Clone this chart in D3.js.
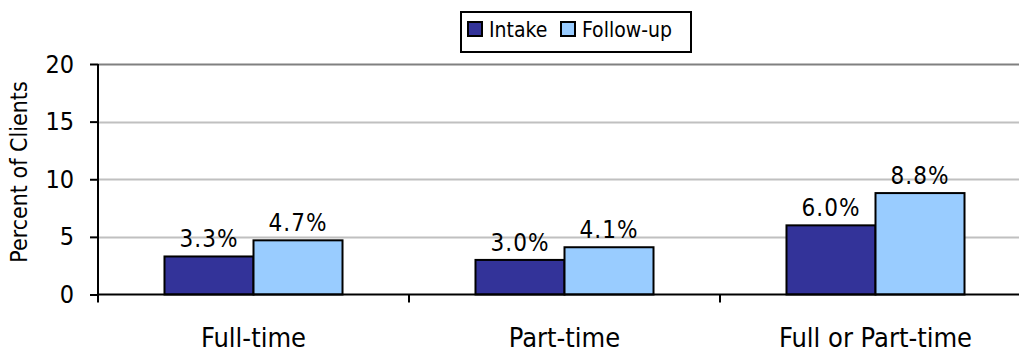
<!DOCTYPE html>
<html>
<head>
<meta charset="utf-8">
<script src="https://cdn.jsdelivr.net/npm/d3@7"></script>
<style>
  html, body { margin: 0; padding: 0; background: #fff; }
  svg { display: block; }
  text { font-family: "DejaVu Sans Condensed", "DejaVu Sans", sans-serif; fill: #000; }
</style>
</head>
<body>
<svg id="chart" width="1019" height="352"></svg>
<script>
// Employment status of clients at intake and follow-up
const categories = ["Full-time", "Part-time", "Full or Part-time"];
const seriesNames = ["Intake", "Follow-up"];
const intakeValues = [3.3, 3.0, 6.0];
const followUpValues = [4.7, 4.1, 8.8];
const yTicks = [0, 5, 10, 15, 20];
const seriesColors = ["#333399", "#99CCFF"];

const svg = d3.select("#chart");

const plot = { left: 98, top: 64, bottom: 294.5, step: 311 };

const x = d3.scaleBand()
  .domain(categories)
  .range([plot.left, plot.left + plot.step * categories.length])
  .padding(0);

const xSeries = d3.scaleBand()
  .domain(seriesNames)
  .range([0, x.bandwidth()])
  .paddingInner(0)
  .paddingOuter(0.747);

const y = d3.scaleLinear()
  .domain([0, 20])
  .range([plot.bottom, plot.top]);

const rows = categories.map((c, i) => ({
  category: c,
  values: [
    { series: seriesNames[0], value: intakeValues[i], color: seriesColors[0] },
    { series: seriesNames[1], value: followUpValues[i], color: seriesColors[1] }
  ]
}));

// horizontal gridlines
svg.append("g")
  .selectAll("line")
  .data(yTicks.filter(t => t > 0))
  .join("line")
  .attr("x1", plot.left)
  .attr("x2", x.range()[1])
  .attr("y1", d => Math.round(y(d)) + 0.5)
  .attr("y2", d => Math.round(y(d)) + 0.5)
  .attr("stroke", d => d === 20 ? "#808080" : "#c0c0c0")
  .attr("stroke-width", 2);

// bars
const groups = svg.append("g")
  .selectAll("g")
  .data(rows)
  .join("g")
  .attr("transform", d => `translate(${x(d.category)},0)`);

groups.selectAll("rect")
  .data(d => d.values)
  .join("rect")
  .attr("x", d => xSeries(d.series))
  .attr("y", d => y(d.value))
  .attr("width", xSeries.bandwidth())
  .attr("height", d => y(0) - y(d.value))
  .attr("fill", d => d.color)
  .attr("stroke", "#000")
  .attr("stroke-width", 2);

// value labels
groups.selectAll("text.value")
  .data(d => d.values)
  .join("text")
  .attr("class", "value")
  .attr("x", d => xSeries(d.series) + xSeries.bandwidth() / 2)
  .attr("y", d => y(d.value) - 9)
  .attr("text-anchor", "middle")
  .attr("font-size", 24)
  .attr("letter-spacing", 1)
  .text(d => d.value.toFixed(1) + "%");

// y axis
const yAxis = svg.append("g")
  .attr("transform", `translate(${plot.left},0)`)
  .call(d3.axisLeft(y).tickValues(yTicks).tickSize(8).tickPadding(16));
yAxis.select(".domain").attr("stroke", "#000").attr("stroke-width", 2)
  .attr("d", `M0,${plot.top}V${plot.bottom}`);
yAxis.selectAll(".tick line").attr("stroke", "#000").attr("stroke-width", 2);
yAxis.selectAll(".tick text")
  .attr("font-size", 25)
  .attr("font-family", "DejaVu Sans Condensed, DejaVu Sans, sans-serif")
  .attr("fill", "#000");

// x axis
const xTickPositions = categories.map(c => x(c));
const xAxisG = svg.append("g");
xAxisG.append("line")
  .attr("x1", plot.left)
  .attr("x2", x.range()[1])
  .attr("y1", plot.bottom)
  .attr("y2", plot.bottom)
  .attr("stroke", "#000")
  .attr("stroke-width", 2);
xAxisG.selectAll("line.tick")
  .data(xTickPositions)
  .join("line")
  .attr("class", "tick")
  .attr("x1", d => d)
  .attr("x2", d => d)
  .attr("y1", plot.bottom)
  .attr("y2", plot.bottom + 8)
  .attr("stroke", "#000")
  .attr("stroke-width", 2);
xAxisG.selectAll("text")
  .data(categories)
  .join("text")
  .attr("x", d => x(d) + x.bandwidth() / 2)
  .attr("y", 347)
  .attr("text-anchor", "middle")
  .attr("font-size", 27)
  .text(d => d);

// y axis title
svg.append("text")
  .attr("transform", "translate(27,172) rotate(-90)")
  .attr("text-anchor", "middle")
  .attr("font-size", 23)
  .text("Percent of Clients");

// legend
const legend = svg.append("g").attr("transform", "translate(461,12)");
legend.append("rect")
  .attr("width", 230)
  .attr("height", 40)
  .attr("fill", "#fff")
  .attr("stroke", "#000")
  .attr("stroke-width", 2);
const legendX = [7, 100];
const items = legend.selectAll("g.item")
  .data(seriesNames)
  .join("g")
  .attr("class", "item")
  .attr("transform", (d, i) => `translate(${legendX[i]},10)`);
items.append("rect")
  .attr("width", 14)
  .attr("height", 14)
  .attr("fill", (d, i) => seriesColors[i])
  .attr("stroke", "#000")
  .attr("stroke-width", 2);
items.append("text")
  .attr("x", 21)
  .attr("y", 15)
  .attr("font-size", 21)
  .text(d => d);
</script>
</body>
</html>
